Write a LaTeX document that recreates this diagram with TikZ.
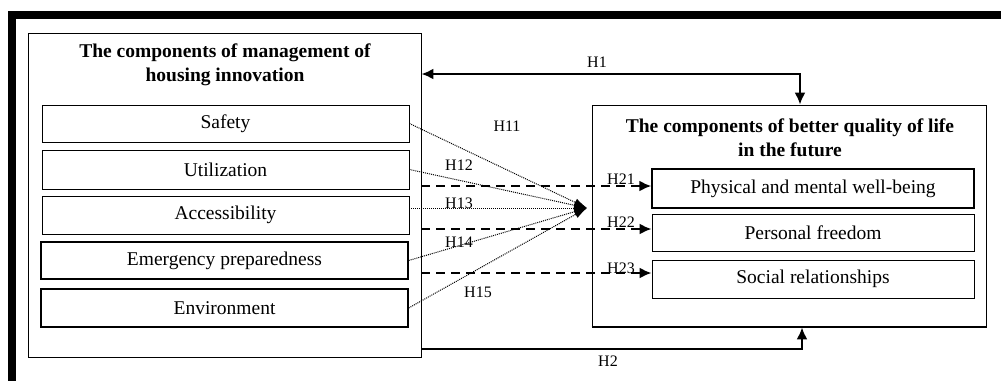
\documentclass[tikz,border=0pt]{standalone}
\usepackage{fontspec}
\setmainfont{Liberation Serif}
\usetikzlibrary{arrows.meta}
\begin{document}
\begin{tikzpicture}[x=1pt,y=-1pt,
  item/.style={draw,line width=0.9pt,inner sep=0pt,font=\fontsize{19.5}{22}\selectfont},
  outer/.style={draw,line width=0.9pt,inner sep=0pt},
  ttl/.style={font=\fontsize{19.5}{24.5}\selectfont\bfseries,align=center,inner sep=0pt},
  lab/.style={font=\fontsize{16}{18}\selectfont,inner sep=0pt},
  tip/.style={-{Latex[length=12pt,width=11pt]}},
  solidarr/.style={line width=2pt,tip},
  dasharr/.style={line width=2pt,dash pattern=on 9pt off 6pt,tip},
  dotarr/.style={line width=1pt,dash pattern=on 1pt off 1pt,-{Latex[length=13pt,width=8pt]}}]
\useasboundingbox (0,0) rectangle (1001,381);
% heavy frame
\fill (8,11) rectangle (1001,19);
\fill (8,11) rectangle (16,381);
% left big box
\node[outer,minimum width=393pt,minimum height=324pt] (L) at (224.5,195) {};
\node[ttl] (Lt) at (225,65) {The components of management of\\housing innovation};
\node[item,minimum width=367pt,minimum height=37pt] (s1) at (225.5,123.5) {Safety};
\node[item,minimum width=367pt,minimum height=39pt] (s2) at (225.5,169.5) {Utilization};
\node[item,minimum width=367pt,minimum height=38pt] (s3) at (225.5,215) {Accessibility};
\node[item,line width=1.4pt,minimum width=367pt,minimum height=37pt] (s4) at (224.5,260.5) {Emergency preparedness};
\node[item,line width=1.4pt,minimum width=367pt,minimum height=38pt] (s5) at (224.5,308) {Environment};
% right big box
\node[outer,minimum width=394pt,minimum height=222pt] (R) at (789,216) {};
\draw[line width=2pt] (R.south west) -- (R.south east);
\node[ttl] (Rt) at (790,137.5) {The components of better quality of life\\in the future};
\node[item,line width=1.4pt,minimum width=322pt,minimum height=39pt] (p1) at (813,188.5) {Physical and mental well-being};
\node[item,minimum width=322pt,minimum height=37pt] (p2) at (813,232.5) {Personal freedom};
\node[item,minimum width=322pt,minimum height=38pt] (p3) at (813,279) {Social relationships};
% hub
\coordinate (hub) at (587,208);
\draw[dotarr] (s1.east) -- (hub);
\draw[dotarr] (s2.east) -- (hub);
\draw[dotarr] (s3.east |- hub) -- (hub);
\draw[dotarr] (s4.east) -- (hub);
\draw[dotarr] (s5.east) -- (hub);
% dashed
\draw[dasharr] (L.east |- 0,186) -- (p1.west |- 0,186);
\draw[dasharr] (L.east |- 0,229) -- (p2.west |- 0,229);
\draw[dasharr] (L.east |- 0,273) -- (p3.west |- 0,273);
% H1, H2
\coordinate (h1) at (800,74);
\draw[line width=2pt,{Latex[length=12pt,width=11pt]}-{Latex[length=12pt,width=11pt]}] (L.east |- h1) -- (h1) -- (h1 |- R.north);
\coordinate (h2) at (802,349);
\draw[solidarr] (L.east |- h2) -- (h2) -- (h2 |- R.south);
% labels
\node[lab] (lh1) at (597,62) {H1};
\node[lab] (lh2) at (608,361) {H2};
\node[lab] (lh11) at (507,126) {H11};
\node[lab] (lh12) at (459,165) {H12};
\node[lab] (lh13) at (459,203) {H13};
\node[lab] (lh14) at (459,242) {H14};
\node[lab] (lh15) at (478,292) {H15};
\node[lab] (lh21) at (621,179) {H21};
\node[lab] (lh22) at (621,222) {H22};
\node[lab] (lh23) at (621,268) {H23};
\end{tikzpicture}
\end{document}
